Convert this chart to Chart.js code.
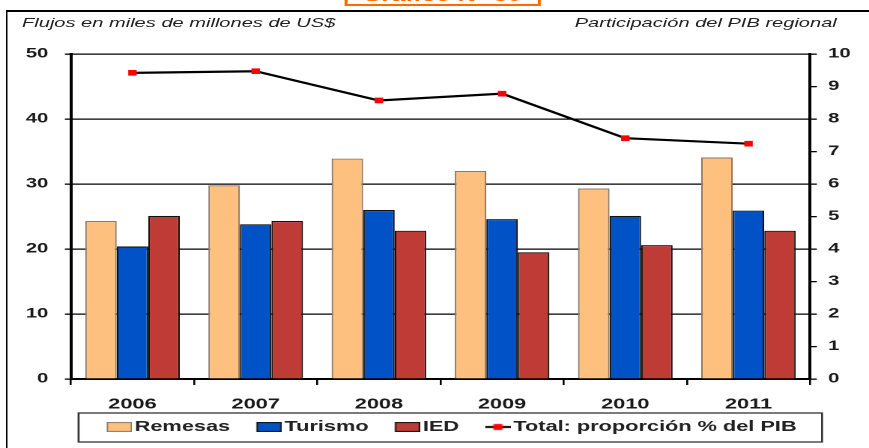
<!DOCTYPE html>
<html><head><meta charset="utf-8">
<script src="https://cdn.jsdelivr.net/npm/chart.js@4.4.1/dist/chart.umd.min.js"></script>
<style>
html,body{margin:0;padding:0;background:#fff;overflow:hidden;width:869px;height:448px;}
#wrap{position:absolute;left:0;top:0;width:580px;height:448px;transform:scaleX(1.49828);transform-origin:0 0;}
#frame{position:absolute;left:4px;top:10px;width:700px;height:600px;border-top:2px solid #000;border-left:1.6px solid #000;}
#badge{position:absolute;left:230px;top:-18px;width:127px;height:20px;border:2.5px solid #ff6a00;color:#ff6a00;font:italic bold 17px "Liberation Sans",Arial,sans-serif;text-align:center;line-height:23px;overflow:hidden;white-space:nowrap}
.ttl{position:absolute;top:15px;font:italic 13.4px "Liberation Sans",Arial,sans-serif;color:#222;white-space:nowrap;line-height:15px}
#tl{left:14.7px}
#tr{right:21.5px}
canvas{position:absolute;left:0;top:0}
</style></head>
<body>
<div id="wrap">
  <div id="frame"></div>
  <div id="badge">Gráfico N° 30</div>
  <div class="ttl" id="tl">Flujos en miles de millones de US$</div>
  <div class="ttl" id="tr">Participación del PIB regional</div>
  <canvas id="c" width="580" height="448"></canvas>
</div>
<script>
const categories = ['2006','2007','2008','2009','2010','2011'];
const remesas = [24.3, 29.8, 33.9, 32.0, 29.3, 34.1];
const turismo = [20.4, 23.8, 26.0, 24.6, 25.1, 25.9];
const ied     = [25.1, 24.3, 22.8, 19.5, 20.6, 22.8];
const totalPIB = [9.42, 9.47, 8.57, 8.78, 7.41, 7.24];
const leftTicks = [0, 10, 20, 30, 40, 50];
const rightTicks = [0, 1, 2, 3, 4, 5, 6, 7, 8, 9, 10];
const seriesNames = ['Remesas', 'Turismo', 'IED', 'Total: proporción % del PIB'];

const FONT = '"Liberation Sans", Arial, sans-serif';

function barSwatch(fill, stroke) {
  const c = document.createElement('canvas'); c.width = 35; c.height = 10;
  const g = c.getContext('2d');
  g.fillStyle = fill; g.fillRect(18, 0, 17, 10);
  g.strokeStyle = stroke; g.lineWidth = 1; g.strokeRect(18.5, 0.5, 16, 9);
  return c;
}
function lineSwatch() {
  const c = document.createElement('canvas'); c.width = 35; c.height = 10;
  const g = c.getContext('2d');
  g.strokeStyle = '#000'; g.lineWidth = 2;
  g.beginPath(); g.moveTo(18, 5); g.lineTo(35, 5); g.stroke();
  g.fillStyle = '#ff0000'; g.fillRect(23.5, 2, 6, 6);
  return c;
}
const swatches = [
  barSwatch('#fec07f', '#8f7a66'),
  barSwatch('#0052c6', '#111'),
  barSwatch('#bf3b36', '#111'),
  lineSwatch()
];

const legendFrame = {
  id: 'legendFrame',
  afterLayout(chart) {
    const lg = chart.legend;
    if (!lg) return;
    const dx = 5.15;
    lg.left += dx; lg.right += dx;
    (lg.legendHitBoxes || []).forEach(h => { h.left += dx; });
  },
  afterDraw(chart) {
    const hb = chart.legend && chart.legend.legendHitBoxes;
    if (!hb || !hb.length) return;
    const first = hb[0], last = hb[hb.length - 1];
    const ctx = chart.ctx;
    ctx.save();
    ctx.strokeStyle = '#333';
    ctx.lineWidth = 1.3;
    const l = first.left - 6.2, r = last.left + last.width + 17;
    const t = first.top - 6.75, b = first.top + first.height + 7.75;
    ctx.strokeRect(l, t, r - l, b - t);
    ctx.restore();
  }
};

new Chart(document.getElementById('c'), {
  data: {
    labels: categories,
    datasets: [
      { type: 'bar', label: seriesNames[0], data: remesas, backgroundColor: '#fec07f', borderColor: '#8f7a66', borderWidth: 1.1, yAxisID: 'y', order: 2 },
      { type: 'bar', label: seriesNames[1], data: turismo, backgroundColor: '#0052c6', borderColor: '#111', borderWidth: 1.1, yAxisID: 'y', order: 2 },
      { type: 'bar', label: seriesNames[2], data: ied, backgroundColor: '#bf3b36', borderColor: '#111', borderWidth: 1.1, yAxisID: 'y', order: 2 },
      { type: 'line', label: seriesNames[3], data: totalPIB, borderColor: '#000', borderWidth: 2.2, tension: 0,
        pointStyle: 'rect', pointRadius: 4, pointHoverRadius: 4, pointBackgroundColor: '#ff0000', pointBorderColor: '#ff0000', pointBorderWidth: 0,
        yAxisID: 'y1', order: 0 }
    ]
  },
  options: {
    responsive: false,
    animation: false,
    devicePixelRatio: 2,
    layout: { padding: { left: 0, right: 0, top: 54, bottom: 3.75 } },
    datasets: { bar: { barPercentage: 1.0, categoryPercentage: 0.768 } },
    plugins: {
      tooltip: { enabled: false },
      title: { display: false },
      legend: {
        position: 'bottom', align: 'center',
        labels: {
          usePointStyle: true, pointStyleWidth: 24, boxHeight: 10, padding: 5,
          font: { family: FONT, size: 14.5, weight: 'bold' }, color: '#222',
          generateLabels(chart) {
            return chart.data.datasets.map((ds, i) => ({
              text: ds.label, pointStyle: swatches[i], datasetIndex: i, hidden: false,
              fontColor: '#222', lineWidth: 0, strokeStyle: 'rgba(0,0,0,0)', fillStyle: 'rgba(0,0,0,0)'
            }));
          }
        }
      }
    },
    scales: {
      x: {
        offset: true,
        grid: { offset: true, drawOnChartArea: false, drawTicks: true, tickLength: 6, color: '#000', lineWidth: 1.3 },
        border: { display: true, color: '#000', width: 2 },
        ticks: { font: { family: FONT, size: 14.5, weight: 'bold' }, color: '#1a1a1a', padding: 11, maxRotation: 0 },
        afterFit(s) { s.height = 35.75; }
      },
      y: {
        position: 'left', min: 0, max: 50,
        afterBuildTicks(s) { s.ticks = leftTicks.map(v => ({ value: v })); },
        grid: { color: '#000', lineWidth: 1.3, drawTicks: true, tickLength: 4 },
        border: { display: true, color: '#000', width: 2 },
        ticks: { font: { family: FONT, size: 13.5, weight: 'bold' }, color: '#1a1a1a', padding: 11 },
        afterFit(s) { s.width = 47.3; }
      },
      y1: {
        position: 'right', min: 0, max: 10,
        afterBuildTicks(s) { s.ticks = rightTicks.map(v => ({ value: v })); },
        grid: { drawOnChartArea: false, color: '#000', lineWidth: 1.3, drawTicks: true, tickLength: 4.5 },
        border: { display: true, color: '#000', width: 2 },
        ticks: { font: { family: FONT, size: 13.5, weight: 'bold' }, color: '#1a1a1a', padding: 7.5 },
        afterFit(s) { s.width = 39.3; }
      }
    }
  },
  plugins: [legendFrame]
});
</script>
</body></html>
